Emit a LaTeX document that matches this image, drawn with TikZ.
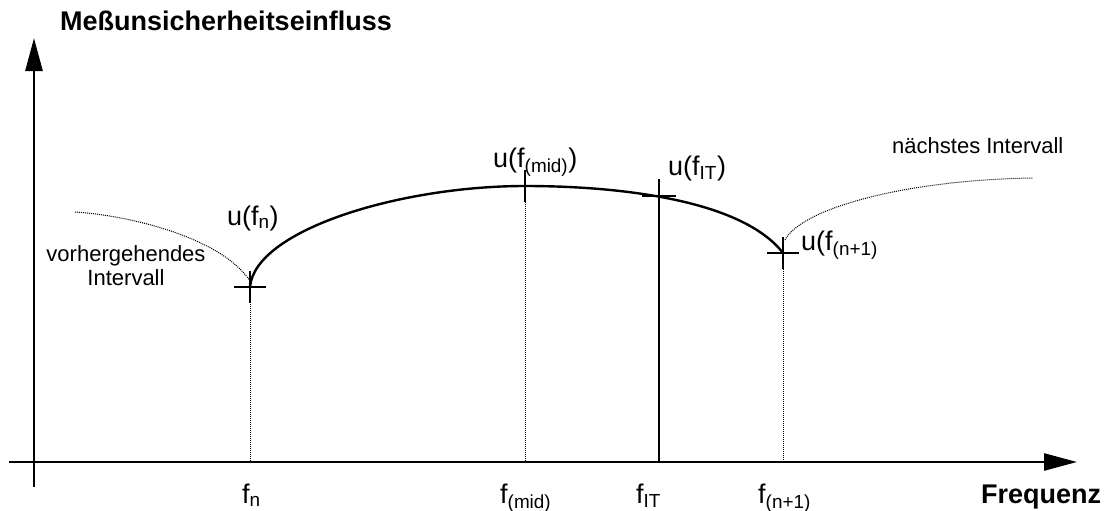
\documentclass[tikz,border=0pt]{standalone}
\usepackage{fontspec}
\setmainfont{Liberation Sans}
\usetikzlibrary{arrows.meta}

\tikzset{
  achse/.style={line width=2.6pt, -{Triangle[length=33pt,width=17pt]}},
  kurve/.style={line width=2.4pt},
  hilfslinie/.style={line width=1pt, densely dotted},
  kreuz/.style={line width=2.6pt},
  wert/.style={font=\fontsize{27}{30}\selectfont, inner sep=0pt, anchor=base west},
  notiz/.style={font=\fontsize{22}{24}\selectfont, inner sep=0pt},
  titel/.style={font=\bfseries\fontsize{27}{30}\selectfont, inner sep=0pt, anchor=base west}
}

\begin{document}
\begin{tikzpicture}[x=1pt, y=-1pt]
    \useasboundingbox (0,0) rectangle (1113,511);
    % Stuetzstellen auf der Kurve und auf der Frequenzachse
    \coordinate (pn) at (250,287);
    \coordinate (pmid) at (525,186);
    \coordinate (pit) at (659,196);
    \coordinate (pn1) at (783,253);
    \coordinate (fn) at (250,462);
    \coordinate (fmid) at (525,462);
    \coordinate (fit) at (659,462);
    \coordinate (fn1) at (783,462);
    % Achsen
    \draw[achse] (34,487) coordinate (ybeg) -- (34,38) coordinate (yend);
    \draw[achse] (9,462) coordinate (xbeg) -- (1077,462) coordinate (xend);
    % Nachbarintervalle und Hilfslinien
    \draw[hilfslinie] (75,212) .. controls (125,215) and (220,236) .. (250,281);
    \draw[hilfslinie] (785,240) .. controls (800,210) and (900,180) .. (1033,178);
    \draw[hilfslinie] (pn) ++(0,15) -- (fn);
    \draw[hilfslinie] (pmid) ++(0,16) -- (fmid);
    \draw[hilfslinie] (pn1) ++(0,16) -- (fn1);
    % Verlauf im Intervall
    \draw[kurve] (pn) .. controls (255,230) and (400,186) .. (pmid)
        .. controls (620,186) and (742,200) .. (pn1);
    % Kreuze
    \foreach \p in {pn,pmid,pn1}
        \draw[kreuz] (\p) ++(-16,0) -- ++(32,0) (\p) ++(0,-16) -- ++(0,32);
    \draw[kreuz] (pit) ++(-17,0) -- ++(34,0);
    \draw[kreuz] (pit) ++(0,-17) -- (fit);
    % Beschriftung
    \node[titel] (ylabel) at (60,31) {Meßunsicherheitseinfluss};
    \node[titel] (xlabel) at (981,503) {Frequenz};
    \node[wert] (ufn) at (227,225) {u(f\textsubscript{n})};
    \node[wert] (ufmid) at (493,167) {u(f\textsubscript{(mid)})};
    \node[wert] (ufit) at (668,175) {u(f\textsubscript{IT})};
    \node[wert] (ufn1) at (801,250) {u(f\textsubscript{(n+1)}};
    \node[wert] (lfn) at (242,503) {f\textsubscript{n}};
    \node[wert] (lfmid) at (500,503) {f\textsubscript{(mid)}};
    \node[wert] (lfit) at (636,503) {f\textsubscript{IT}};
    \node[wert] (lfn1) at (758,503) {f\textsubscript{(n+1)}};
    \node[notiz, anchor=base west] (naechst) at (892,153) {nächstes Intervall};
    \node[notiz, align=center, anchor=north] (vorher) at (126,245) {vorhergehendes\\Intervall};
\end{tikzpicture}
\end{document}
